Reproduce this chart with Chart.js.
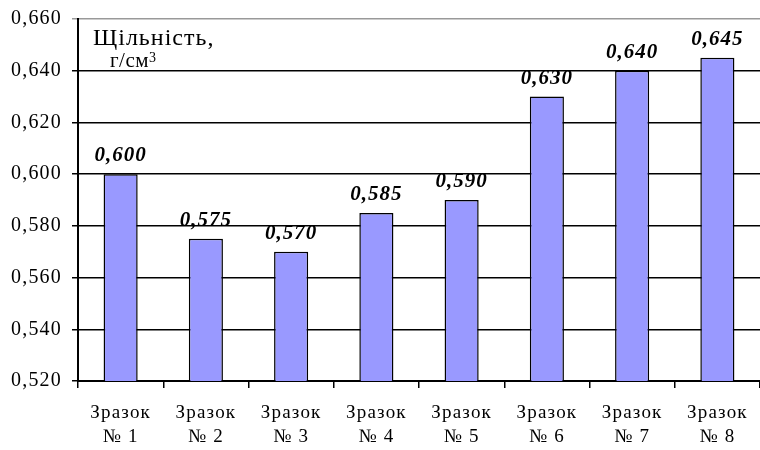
<!DOCTYPE html>
<html>
<head>
<meta charset="utf-8">
<script src="https://cdn.jsdelivr.net/npm/chart.js@4"></script>
<style>
  html, body { margin: 0; padding: 0; background: #fff; }
  #wrap { width: 760px; height: 450px; }
</style>
</head>
<body>
<div id="wrap"><canvas id="chart1" width="760" height="450"></canvas></div>
<script>
const samples = [["Зразок", "№ 1"], ["Зразок", "№ 2"], ["Зразок", "№ 3"], ["Зразок", "№ 4"],
    ["Зразок", "№ 5"], ["Зразок", "№ 6"], ["Зразок", "№ 7"], ["Зразок", "№ 8"]];
const density = [0.600, 0.575, 0.570, 0.585, 0.590, 0.630, 0.640, 0.645];
const yTicks = [0.520, 0.540, 0.560, 0.580, 0.600, 0.620, 0.640, 0.660];

const fmt = v => v.toFixed(3).replace(".", ",");
const serif = "'Liberation Serif', 'Times New Roman', serif";

// the original text is a bit wide, so spread the letters a little
const wideText = {
    id: "wideText",
    beforeDraw(chart) {
        chart.ctx.letterSpacing = "1.2px";
    }
};

// values above the bars, bold italic
const valueLabels = {
    id: "valueLabels",
    afterDatasetsDraw(chart) {
        const ctx = chart.ctx;
        const meta = chart.getDatasetMeta(0);
        ctx.save();
        ctx.letterSpacing = "1px";
        ctx.font = "bold italic 21px " + serif;
        ctx.fillStyle = "#000";
        ctx.textAlign = "center";
        ctx.textBaseline = "alphabetic";
        meta.data.forEach((bar, i) => {
            ctx.fillText(fmt(density[i]), bar.x, bar.y - 13);
        });
        ctx.restore();
    }
};

// axis title sitting inside the plot, top left
const axisTitle = {
    id: "axisTitle",
    afterDraw(chart) {
        const ctx = chart.ctx;
        const a = chart.chartArea;
        ctx.save();
        ctx.fillStyle = "#000";
        ctx.textBaseline = "alphabetic";
        ctx.textAlign = "left";
        ctx.letterSpacing = "1px";
        ctx.font = "24px " + serif;
        ctx.fillText("Щільність,", a.left + 15, a.top + 26);
        ctx.letterSpacing = "0.5px";
        ctx.font = "21px " + serif;
        ctx.fillText("г/см", a.left + 32, a.top + 48);
        const w = ctx.measureText("г/см").width;
        ctx.font = "14px " + serif;
        ctx.fillText("3", a.left + 32 + w, a.top + 43);
        ctx.restore();
    }
};

const densityChart = new Chart(document.getElementById("chart1").getContext("2d"), {
    type: "bar",
    data: {
        labels: samples,
        datasets: [{
            data: density,
            backgroundColor: "#9999FF",
            borderColor: "#000",
            borderWidth: 1.5,
            barPercentage: 0.4,
            categoryPercentage: 1
        }]
    },
    options: {
        responsive: false,
        animation: false,
        layout: { padding: { top: 19, right: 0, left: 0, bottom: 0 } },
        scales: {
            x: {
                grid: {
                    offset: true,
                    drawOnChartArea: false,
                    drawTicks: true,
                    tickLength: 7,
                    color: "#000",
                    lineWidth: 1.5
                },
                border: { color: "#000", width: 2 },
                ticks: {
                    color: "#000",
                    font: { family: serif, size: 19, lineHeight: 1.25 },
                    padding: 13,
                    maxRotation: 0
                },
                afterFit(scale) {
                    scale.height = 69;
                    scale.paddingLeft = 0;
                    scale.paddingRight = 0;
                }
            },
            y: {
                min: 0.52,
                max: 0.66,
                afterBuildTicks(scale) {
                    scale.ticks = yTicks.map(v => ({ value: v }));
                },
                grid: {
                    color: ctx => ctx.tick && ctx.tick.value >= 0.659 ? "#999" : "#000",
                    lineWidth: 1.5,
                    tickLength: 6
                },
                border: { color: "#000", width: 2 },
                ticks: {
                    color: "#000",
                    font: { family: serif, size: 20 },
                    padding: 10,
                    callback: v => fmt(v)
                },
                afterFit(scale) {
                    scale.width = 78;
                    scale.paddingTop = 0;
                    scale.paddingBottom = 0;
                }
            }
        },
        plugins: {
            legend: { display: false },
            tooltip: { enabled: false }
        }
    },
    plugins: [wideText, valueLabels, axisTitle]
});
</script>
</body>
</html>
